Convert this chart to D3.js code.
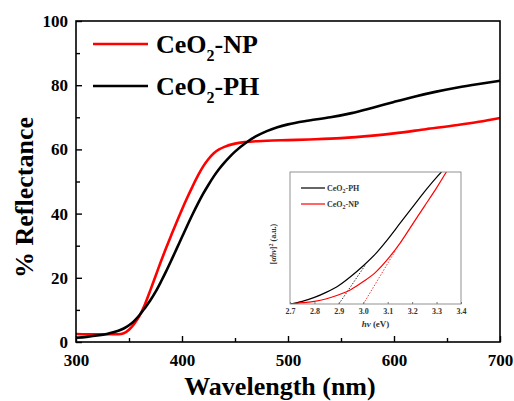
<!DOCTYPE html>
<html><head><meta charset="utf-8">
<script src="https://cdn.jsdelivr.net/npm/d3@7"></script>
<style>body{margin:0;background:#fff}</style>
</head><body>
<svg id="c" width="514" height="401"></svg>
<script>
// Main chart data
const wavelengthNP = [300,320,340,345,350,355,360,365,370,375,380,385,390,395,400,405,410,415,420,425,430,435,440,450,460,480,500,520,550,580,600,630,660,680,700];
const reflectNP    = [2.5,2.4,2.4,2.7,3.8,5.7,8.2,11.7,16.0,20.5,25.0,29.3,33.4,37.4,41.3,45.0,48.5,51.8,54.7,57.0,58.8,60.0,60.8,61.8,62.3,62.7,62.9,63.1,63.5,64.3,65.0,66.3,67.6,68.6,69.8];
const wavelengthPH = [300,310,320,330,340,345,350,355,360,365,370,375,380,385,390,395,400,405,410,415,420,425,430,435,440,445,450,460,470,480,490,500,520,540,560,580,600,620,640,660,680,700];
const reflectPH    = [1.3,1.6,2.0,2.6,3.5,4.2,5.2,6.6,8.4,10.6,12.9,15.6,18.7,22.0,25.5,29.1,32.7,36.3,39.8,43.1,46.2,49.0,51.6,53.9,55.9,57.7,59.3,62.0,64.1,65.7,66.9,67.8,69.0,70.0,71.3,73.0,74.8,76.5,78.0,79.3,80.4,81.4];
const xTicks = [300,400,500,600,700];
const yTicks = [0,20,40,60,80,100];
const seriesNames = ["CeO2-NP","CeO2-PH"];
const seriesColors = ["#ff0000","#000000"];
// Inset data
const insetEnergyPH = [2.7,2.75,2.8,2.85,2.9,2.95,3.0,3.05,3.1,3.15,3.2,3.25,3.3,3.32];
const insetPH       = [0,0.02,0.05,0.09,0.14,0.21,0.29,0.38,0.49,0.61,0.73,0.85,0.96,1.0];
const insetEnergyNP = [2.7,2.75,2.8,2.85,2.9,2.95,3.0,3.05,3.1,3.15,3.2,3.25,3.3,3.34];
const insetNP       = [0,0.01,0.02,0.04,0.07,0.11,0.17,0.24,0.34,0.46,0.60,0.74,0.88,1.0];
const tangentPH = [[2.9,0],[3.01,0.30]];
const tangentNP = [[3.0,0],[3.13,0.40]];
const insetTicks = [2.7,2.8,2.9,3.0,3.1,3.2,3.3,3.4];

const svg = d3.select("#c");
const M = {l:76,r:500,t:21,b:342};
const x = d3.scaleLinear().domain([300,700]).range([M.l,M.r]);
const y = d3.scaleLinear().domain([0,100]).range([M.b,M.t]);
const font = "'Liberation Serif','Times New Roman',serif";

const line = d3.line().x(d=>x(d[0])).y(d=>y(d[1])).curve(d3.curveMonotoneX);
svg.append("path").datum(wavelengthNP.map((w,i)=>[w,reflectNP[i]]))
  .attr("d",line).attr("fill","none").attr("stroke",seriesColors[0]).attr("stroke-width",2.6);
svg.append("path").datum(wavelengthPH.map((w,i)=>[w,reflectPH[i]]))
  .attr("d",line).attr("fill","none").attr("stroke",seriesColors[1]).attr("stroke-width",2.6);

// frame
svg.append("rect").attr("x",M.l).attr("y",M.t).attr("width",M.r-M.l).attr("height",M.b-M.t)
  .attr("fill","none").attr("stroke","#000").attr("stroke-width",1.6);

// axes
const xAxis = svg.append("g").attr("transform",`translate(0,${M.b})`)
  .call(d3.axisBottom(x).tickValues(xTicks).tickSizeInner(-6).tickSizeOuter(0).tickPadding(12));
const xMinor = svg.append("g").attr("transform",`translate(0,${M.b})`)
  .call(d3.axisBottom(x).tickValues([350,450,550,650]).tickSizeInner(-4).tickSizeOuter(0).tickFormat(""));
const yAxis = svg.append("g").attr("transform",`translate(${M.l},0)`)
  .call(d3.axisLeft(y).tickValues(yTicks).tickSizeInner(-6).tickSizeOuter(0).tickPadding(8));
const yMinor = svg.append("g").attr("transform",`translate(${M.l},0)`)
  .call(d3.axisLeft(y).tickValues([10,30,50,70,90]).tickSizeInner(-4).tickSizeOuter(0).tickFormat(""));
[xAxis,xMinor,yAxis,yMinor].forEach(g=>{
  g.select(".domain").remove();
  g.selectAll("line").attr("stroke","#000").attr("stroke-width",1.4);
  g.selectAll("text").attr("font-family",font).attr("font-weight","bold").attr("font-size",17).attr("fill","#000");
});

svg.append("text").attr("x",(M.l+M.r)/2-8).attr("y",395).attr("text-anchor","middle")
  .attr("font-family",font).attr("font-weight","bold").attr("font-size",26).text("Wavelength (nm)");
svg.append("text").attr("transform",`translate(33,${(M.t+M.b)/2+16}) rotate(-90)`).attr("text-anchor","middle")
  .attr("font-family",font).attr("font-weight","bold").attr("font-size",26).text("% Reflectance");

// legend
const leg = [{y:44},{y:86}];
seriesNames.forEach((n,i)=>{
  svg.append("line").attr("x1",93).attr("x2",148).attr("y1",leg[i].y).attr("y2",leg[i].y)
    .attr("stroke",seriesColors[i]).attr("stroke-width",2.6);
  const t = svg.append("text").attr("x",156).attr("y",leg[i].y+9).attr("font-family",font)
    .attr("font-weight","bold").attr("font-size",26);
  t.append("tspan").text("CeO");
  t.append("tspan").attr("font-size",16).attr("dy",8).text("2");
  t.append("tspan").attr("dy",-8).text(n.slice(4));
});

// inset
const I = {l:290,r:461,t:172,b:304};
const ix = d3.scaleLinear().domain([2.7,3.4]).range([I.l,I.r]);
const iy = d3.scaleLinear().domain([0,1]).range([I.b,I.t]);
const iline = d3.line().x(d=>ix(d[0])).y(d=>iy(d[1])).curve(d3.curveMonotoneX);
svg.append("clipPath").attr("id","ic").append("rect")
  .attr("x",I.l).attr("y",I.t).attr("width",I.r-I.l).attr("height",I.b-I.t);
const ig = svg.append("g").attr("clip-path","url(#ic)");
ig.append("path").datum(tangentPH).attr("d",d3.line().x(d=>ix(d[0])).y(d=>iy(d[1])))
  .attr("stroke","#000").attr("stroke-width",0.8).attr("stroke-dasharray","1.5,1.5").attr("fill","none");
ig.append("path").datum(tangentNP).attr("d",d3.line().x(d=>ix(d[0])).y(d=>iy(d[1])))
  .attr("stroke","#ff0000").attr("stroke-width",0.8).attr("stroke-dasharray","1.5,1.5").attr("fill","none");
ig.append("path").datum(insetEnergyPH.map((e,i)=>[e,insetPH[i]])).attr("d",iline)
  .attr("fill","none").attr("stroke","#000").attr("stroke-width",1.2);
ig.append("path").datum(insetEnergyNP.map((e,i)=>[e,insetNP[i]])).attr("d",iline)
  .attr("fill","none").attr("stroke","#ff0000").attr("stroke-width",1.2);
svg.append("rect").attr("x",I.l).attr("y",I.t).attr("width",I.r-I.l).attr("height",I.b-I.t)
  .attr("fill","none").attr("stroke","#777").attr("stroke-width",0.8);
const iax = svg.append("g").attr("transform",`translate(0,${I.b})`)
  .call(d3.axisBottom(ix).tickValues(insetTicks).tickFormat(d3.format(".1f")).tickSizeInner(-2).tickSizeOuter(0).tickPadding(4));
iax.select(".domain").remove();
iax.selectAll("line").attr("stroke","#777");
iax.selectAll("text").attr("font-family",font).attr("font-weight","bold").attr("font-size",8).attr("fill","#333");
const hv = svg.append("text").attr("x",(I.l+I.r)/2).attr("y",327).attr("text-anchor","middle")
  .attr("font-family",font).attr("font-weight","bold").attr("font-size",9).attr("fill","#333");
hv.append("tspan").attr("font-style","italic").text("hν");
hv.append("tspan").text(" (eV)");
const yl = svg.append("text").attr("transform",`translate(276,${(I.t+I.b)/2+6}) rotate(-90)`).attr("text-anchor","middle")
  .attr("font-family",font).attr("font-weight","bold").attr("font-size",8).attr("fill","#333");
yl.append("tspan").text("[");
yl.append("tspan").attr("font-style","italic").text("αhν");
yl.append("tspan").text("]");
yl.append("tspan").attr("font-size",6).attr("dy",-3).text("2");
yl.append("tspan").attr("dy",3).text(" (a.u.)");
const insetNames = ["CeO2-PH","CeO2-NP"], insetCols = ["#000","#ff0000"], insetLegY=[188,204];
insetNames.forEach((n,i)=>{
  svg.append("line").attr("x1",301).attr("x2",325).attr("y1",insetLegY[i]).attr("y2",insetLegY[i])
    .attr("stroke",insetCols[i]).attr("stroke-width",1.2);
  const t = svg.append("text").attr("x",327).attr("y",insetLegY[i]+3).attr("font-family",font)
    .attr("font-weight","bold").attr("font-size",8).attr("fill","#333");
  t.append("tspan").text("CeO");
  t.append("tspan").attr("font-size",6).attr("dy",2).text("2");
  t.append("tspan").attr("dy",-2).text(n.slice(4));
});
</script>
</body></html>
